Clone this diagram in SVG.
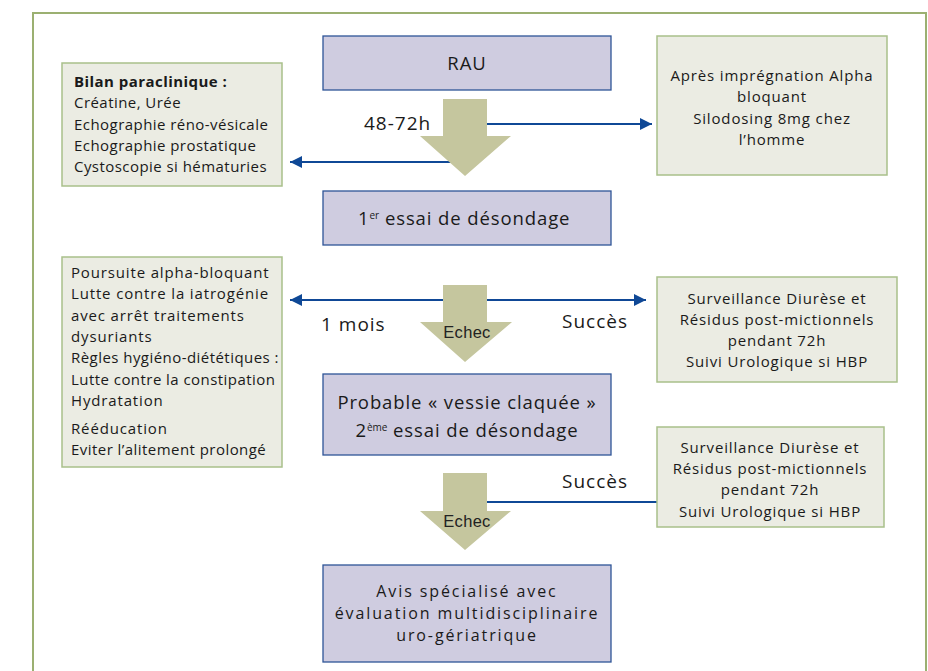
<svg xmlns="http://www.w3.org/2000/svg" width="928" height="671" viewBox="0 0 928 671">
<defs>
<marker id="ah" viewBox="0 0 10 10" refX="10" refY="5" markerWidth="19" markerHeight="12" markerUnits="userSpaceOnUse" orient="auto">
<path d="M0,0 L10,5 L0,10 z" fill="#0F4896"/>
</marker>
<style>
.frame{fill:#ffffff;stroke:#9BB071;stroke-width:2}
.pbox{fill:#CFCCE0;stroke:#2F5597;stroke-width:1.3}
.gbox{fill:#EBECE3;stroke:#A9C08A;stroke-width:1.5}
.big{fill:#C5C69E}
.ln{stroke:#0F4896;stroke-width:2;fill:none}
text{font-family:"Open Sans","Liberation Sans",sans-serif;fill:#1a1a1a}
.t14{font-size:15px;letter-spacing:0.45px}
.w{letter-spacing:0.85px}
.t17{font-size:18.5px;letter-spacing:0.9px}
.av{font-size:16px;letter-spacing:1.9px}
.lab{font-size:19px;letter-spacing:1px}
.c{text-anchor:middle}
.echec{font-family:"Liberation Sans",Arial,sans-serif;font-size:16.5px;letter-spacing:0.3px;text-anchor:middle;fill:#222}
</style>
</defs>
<rect class="frame" x="33" y="13" width="893" height="680"/>

<g id="connectors">
<line class="ln" x1="465" y1="124" x2="652" y2="124" marker-end="url(#ah)"/>
<line class="ln" x1="465" y1="162" x2="290" y2="162" marker-end="url(#ah)"/>
<line class="ln" x1="465" y1="300" x2="646" y2="300" marker-end="url(#ah)"/>
<line class="ln" x1="465" y1="300" x2="290" y2="300" marker-end="url(#ah)"/>
<line class="ln" x1="465" y1="502" x2="657" y2="502"/>
<polygon id="arrow1" class="big" points="443,99 487,99 487,136 511,136 465,176 420,136 443,136"/>
<polygon id="arrow2" class="big" points="443,285 487,285 487,322 512,322 465,362 420,322 443,322"/>
<polygon id="arrow3" class="big" points="443,473 487,473 487,511 511,511 465,550 420,511 443,511"/>
<text class="lab" x="364" y="130">48-72h</text>
<text class="lab" x="321" y="331">1 mois</text>
<text class="lab" x="562" y="328">Succès</text>
<text class="lab" x="562" y="488">Succès</text>
<text class="echec" x="467" y="338">Echec</text>
<text class="echec" x="467" y="527">Echec</text>
</g>

<g id="rau">
<rect class="pbox" x="323" y="36" width="288" height="54"/>
<text class="t17 c" x="467" y="70">RAU</text>
</g>

<g id="bilan">
<rect class="gbox" x="62" y="63" width="220" height="123"/>
<text class="t14" x="74" y="87" font-weight="bold" letter-spacing="0.1">Bilan paraclinique :</text>
<text class="t14" x="74" y="108">Créatine, Urée</text>
<text class="t14" x="74" y="130">Echographie réno-vésicale</text>
<text class="t14" x="74" y="151">Echographie prostatique</text>
<text class="t14" x="74" y="172">Cystoscopie si hématuries</text>
</g>

<g id="apres">
<rect class="gbox" x="657" y="36" width="230" height="139"/>
<text class="t14 c w" x="772" y="81">Après imprégnation Alpha</text>
<text class="t14 c w" x="772" y="102">bloquant</text>
<text class="t14 c w" x="772" y="124">Silodosing 8mg chez</text>
<text class="t14 c w" x="772" y="145">l’homme</text>
</g>

<g id="essai1">
<rect class="pbox" x="323" y="191" width="288" height="54"/>
<text class="t17" x="358" y="225">1<tspan font-size="10" letter-spacing="0" dy="-6">er</tspan><tspan dy="6"> essai de désondage</tspan></text>
</g>

<g id="poursuite">
<rect class="gbox" x="62" y="257" width="220" height="210"/>
<text class="t14 w" x="71" y="278">Poursuite alpha-bloquant</text>
<text class="t14 w" x="71" y="299">Lutte contre la iatrogénie</text>
<text class="t14 w" x="71" y="321">avec arrêt traitements</text>
<text class="t14 w" x="71" y="342">dysuriants</text>
<text class="t14" x="71" y="363" letter-spacing="-0.2">Règles hygiéno-diététiques :</text>
<text class="t14" x="71" y="385" letter-spacing="-0.5">Lutte contre la constipation</text>
<text class="t14 w" x="71" y="406">Hydratation</text>
<text class="t14 w" x="71" y="434">Rééducation</text>
<text class="t14" x="71" y="455">Eviter l’alitement prolongé</text>
</g>

<g id="surv1">
<rect class="gbox" x="657" y="277" width="240" height="105"/>
<text class="t14 c w" x="777" y="304">Surveillance Diurèse et</text>
<text class="t14 c w" x="777" y="325">Résidus post-mictionnels</text>
<text class="t14 c w" x="777" y="346">pendant 72h</text>
<text class="t14 c w" x="777" y="367">Suivi Urologique si HBP</text>
</g>

<g id="essai2">
<rect class="pbox" x="323" y="374" width="288" height="81"/>
<text class="t17 c" x="467" y="409">Probable « vessie claquée »</text>
<text class="t17 c" x="467" y="437">2<tspan font-size="10" letter-spacing="0" dy="-6">ème</tspan><tspan dy="6"> essai de désondage</tspan></text>
</g>

<g id="surv2">
<rect class="gbox" x="657" y="427" width="227" height="100"/>
<text class="t14 c w" x="770" y="453">Surveillance Diurèse et</text>
<text class="t14 c w" x="770" y="474">Résidus post-mictionnels</text>
<text class="t14 c w" x="770" y="495">pendant 72h</text>
<text class="t14 c w" x="770" y="517">Suivi Urologique si HBP</text>
</g>

<g id="avis">
<rect class="pbox" x="323" y="565" width="288" height="97"/>
<text class="av c" x="467" y="597">Avis spécialisé avec</text>
<text class="av c" x="467" y="619">évaluation multidisciplinaire</text>
<text class="av c" x="467" y="641">uro-gériatrique</text>
</g>
</svg>
